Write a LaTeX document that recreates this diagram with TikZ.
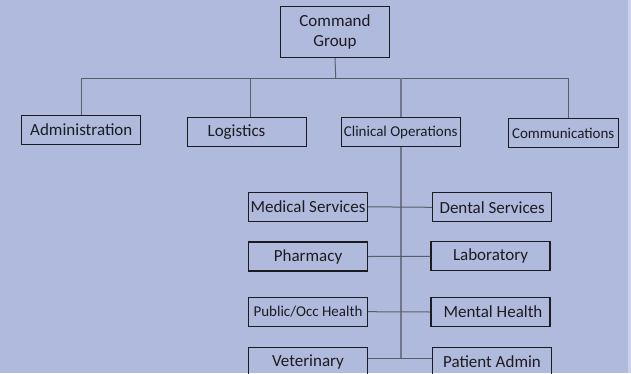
\documentclass[tikz,border=0pt]{standalone}
\usepackage{fontspec}
\setmainfont{Carlito}
\definecolor{bgc}{RGB}{176,186,221}
\definecolor{stripc}{RGB}{203,209,232}
\definecolor{linec}{RGB}{88,94,110}
\definecolor{trunkc}{RGB}{112,119,138}
\definecolor{boxc}{RGB}{28,28,32}
\tikzset{
  unit/.style={draw=boxc, line width=1.1bp, inner sep=0pt, minimum width=119bp, minimum height=29bp, text=boxc, font=\fontsize{17bp}{20bp}\selectfont},
  unitsm/.style={unit, font=\fontsize{15bp}{18bp}\selectfont},
  conn/.style={draw=linec, line width=1bp},
  trunk/.style={draw=trunkc, line width=1.6bp}
}
\begin{document}
\begin{tikzpicture}[x=1bp,y=-1bp]
\useasboundingbox (0,0) rectangle (631,373);
\fill[bgc] (0,0) rectangle (631,373);
\fill[stripc] (628.3,0) rectangle (631,373);

\node[unit, line width=1.4bp, minimum width=108.6bp, minimum height=50.6bp, align=center] (cmd) at (335,32) {Command\\Group};

\node[unit] (adm) at (81.3,129.9) {Administration};
\node[unit] (log) at (247,131.8) {Logistics\hspace*{21bp}};
\node[unitsm, minimum width=118.7bp] (cli) at (400.7,132.2) {Clinical Operations};
\node[unitsm, minimum width=109.7bp, minimum height=29.4bp] (com) at (563.2,133) {Communications};

\node[unit] (med) at (308,206.8) {Medical Services};
\node[unit] (den) at (492.2,207.3) {Dental Services};
\node[unit] (pha) at (308,256.5) {Pharmacy};
\node[unit] (lab) at (490.5,256.3) {Laboratory};
\node[unitsm] (pub) at (308,311.7) {Public/Occ Health};
\node[unit] (men) at (490.5,312) {\hspace*{5bp}Mental Health};
\node[unit] (vet) at (308,362.2) {Veterinary};
\node[unit] (pat) at (492,361.8) {Patient Admin};

\coordinate (bus) at (335.7,78);
\coordinate (logdrop) at (250.3,78);
\coordinate (comdrop) at (568.7,78);
\coordinate (tb) at (400.7,358.3);

% top bus
\draw[conn] (cmd.south) -- (bus);
\draw[conn] (adm.north |- bus) -- (comdrop);
\draw[conn] (adm.north |- bus) -- (adm.north);
\draw[conn] (logdrop) -- (logdrop |- log.north);
\draw[trunk] (cli.north |- bus) -- (cli.north);
\draw[conn] (comdrop) -- (comdrop |- com.north);

% clinical trunk
\draw[trunk] (cli.south) -- (tb);
\draw[conn] (med.east) -- (den.west);
\draw[conn] (pha.east) -- (lab.west);
\draw[conn] (pub.east) -- (men.west);
\draw[conn] (vet.east |- tb) -- (pat.west |- tb);
\end{tikzpicture}
\end{document}
